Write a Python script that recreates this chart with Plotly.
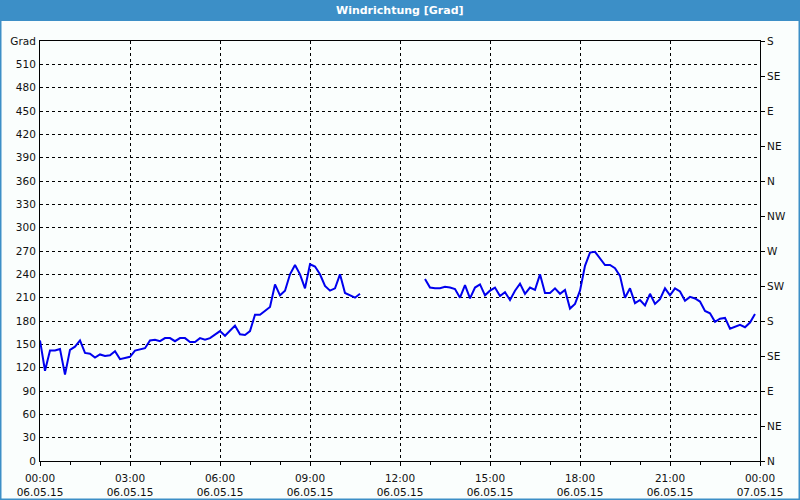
import plotly.graph_objects as go
import pandas as pd

# ---- data -------------------------------------------------------------
seg1_start = "2015-05-06 00:00"
seg1_values = [155, 116, 142, 142, 144, 111, 143, 147, 155, 139,
               138, 133, 137, 135, 136, 141, 131, 133, 134, 142,
               144, 145, 155, 156, 154, 158, 158, 154, 158, 158,
               153, 153, 158, 156, 158, 162, 167, 161, 167, 174,
               163, 162, 167, 188, 188, 193, 198, 227, 213, 219,
               240, 252, 240, 222, 253, 250, 240, 225, 219, 222,
               240, 216, 213, 210, 215]
seg2_start = "2015-05-06 12:50"
seg2_values = [234, 223, 222, 222, 224, 223, 221, 210, 226, 209,
               223, 227, 213, 219, 223, 212, 217, 207, 219, 228,
               215, 223, 220, 240, 216, 216, 222, 215, 220, 196,
               202, 219, 251, 268, 269, 261, 252, 252, 248, 238,
               210, 222, 203, 207, 200, 215, 202, 208, 222, 213,
               222, 218, 206, 211, 209, 205, 193, 190, 179, 183,
               184, 170, 172, 175, 172, 178, 189]

x_tick_times = ["2015-05-06 00:00", "2015-05-06 03:00", "2015-05-06 06:00",
                "2015-05-06 09:00", "2015-05-06 12:00", "2015-05-06 15:00",
                "2015-05-06 18:00", "2015-05-06 21:00", "2015-05-07 00:00"]
x_tick_hours = ["00:00", "03:00", "06:00", "09:00", "12:00", "15:00",
                "18:00", "21:00", "00:00"]
x_tick_dates = ["06.05.15"] * 8 + ["07.05.15"]

y_ticks = list(range(0, 541, 30))
y_labels = [str(v) for v in y_ticks[:-1]] + ["Grad"]
dir_ticks = list(range(0, 541, 45))
dir_labels = ["N", "NE", "E", "SE", "S", "SW", "W", "NW",
              "N", "NE", "E", "SE", "S"]

title_text = "Windrichtung [Grad]"

# ---- build series -----------------------------------------------------
t1 = list(pd.date_range(seg1_start, periods=len(seg1_values), freq="10min"))
t2 = list(pd.date_range(seg2_start, periods=len(seg2_values), freq="10min"))
gap_t = [t1[-1] + pd.Timedelta(minutes=10)]
times = t1 + gap_t + t2
values = seg1_values + [None] + seg2_values

x_range = ["2015-05-06 00:00", "2015-05-07 00:00"]

FONT = "DejaVu Sans"
FS = 10.5
TXT = "#111111"
BLUE_BAR = "#3C8FC7"
BG = "#FAFEFD"

fig = go.Figure()
fig.add_trace(go.Scatter(x=times, y=values, mode="lines",
                         line=dict(color="#0000EE", width=2),
                         connectgaps=False, showlegend=False,
                         hoverinfo="x+y"))
fig.add_trace(go.Scatter(x=[], y=[], xaxis="x2", yaxis="y2",
                         showlegend=False))

L, R, T, B = 40, 40, 41, 39
W, H = 800, 500
pw, ph = W - L - R, H - T - B


def px_x(px):
    return (px - L) / pw


def px_y(py):
    return (H - B - py) / ph


fig.update_layout(
    width=W, height=H,
    margin=dict(l=L, r=R, t=T, b=B, pad=0, autoexpand=False),
    paper_bgcolor=BG, plot_bgcolor=BG,
    font=dict(family=FONT, size=FS, color=TXT),
    xaxis=dict(
        type="date", range=x_range, automargin=False,
        tickvals=x_tick_times, ticktext=x_tick_hours,
        ticks="outside", ticklen=4, tickcolor="black",
        minor=dict(dtick=3600000, ticks="outside", ticklen=3,
                   tickcolor="black", showgrid=False),
        showgrid=True, gridcolor="black", gridwidth=1, griddash="3px,3px",
        showline=True, linecolor="black", linewidth=1, mirror=True,
        zeroline=False, tickfont=dict(size=FS, color=TXT),
        ticklabelstandoff=3,
    ),
    xaxis2=dict(
        type="date", range=x_range, overlaying="x", side="bottom",
        anchor="y", automargin=False,
        tickvals=x_tick_times, ticktext=x_tick_dates,
        ticks="", showgrid=False, showline=False, zeroline=False,
        tickfont=dict(size=FS, color=TXT), ticklabelstandoff=23,
    ),
    yaxis=dict(
        range=[0, 540], tickvals=y_ticks, ticktext=y_labels,
        automargin=False,
        ticks="", showgrid=True, gridcolor="black", gridwidth=1,
        griddash="3px,3px",
        showline=True, linecolor="black", linewidth=1, mirror=True,
        zeroline=False, tickfont=dict(size=FS, color=TXT),
        ticklabelstandoff=1,
    ),
    yaxis2=dict(
        range=[0, 540], overlaying="y", side="right", anchor="x",
        automargin=False,
        tickvals=dir_ticks, ticktext=dir_labels,
        ticks="outside", ticklen=4, tickcolor="black",
        showgrid=False, showline=False, zeroline=False,
        tickfont=dict(size=FS, color=TXT), ticklabelstandoff=0,
    ),
    shapes=[
        dict(type="rect", xref="paper", yref="paper",
             x0=px_x(0), x1=px_x(W), y0=px_y(21), y1=px_y(0),
             fillcolor=BLUE_BAR, line=dict(width=0), layer="below"),
        dict(type="rect", xref="paper", yref="paper",
             x0=px_x(0.5), x1=px_x(W - 0.5), y0=px_y(H - 0.5), y1=px_y(0.5),
             fillcolor="rgba(0,0,0,0)", line=dict(color=BLUE_BAR, width=2)),
    ],
    annotations=[
        dict(text="<b>" + title_text + "</b>", xref="paper", yref="paper",
             x=0.5, y=px_y(10.5), xanchor="center", yanchor="middle",
             showarrow=False, font=dict(family=FONT, size=11, color="white")),
    ],
)

fig.write_html("out.html")
